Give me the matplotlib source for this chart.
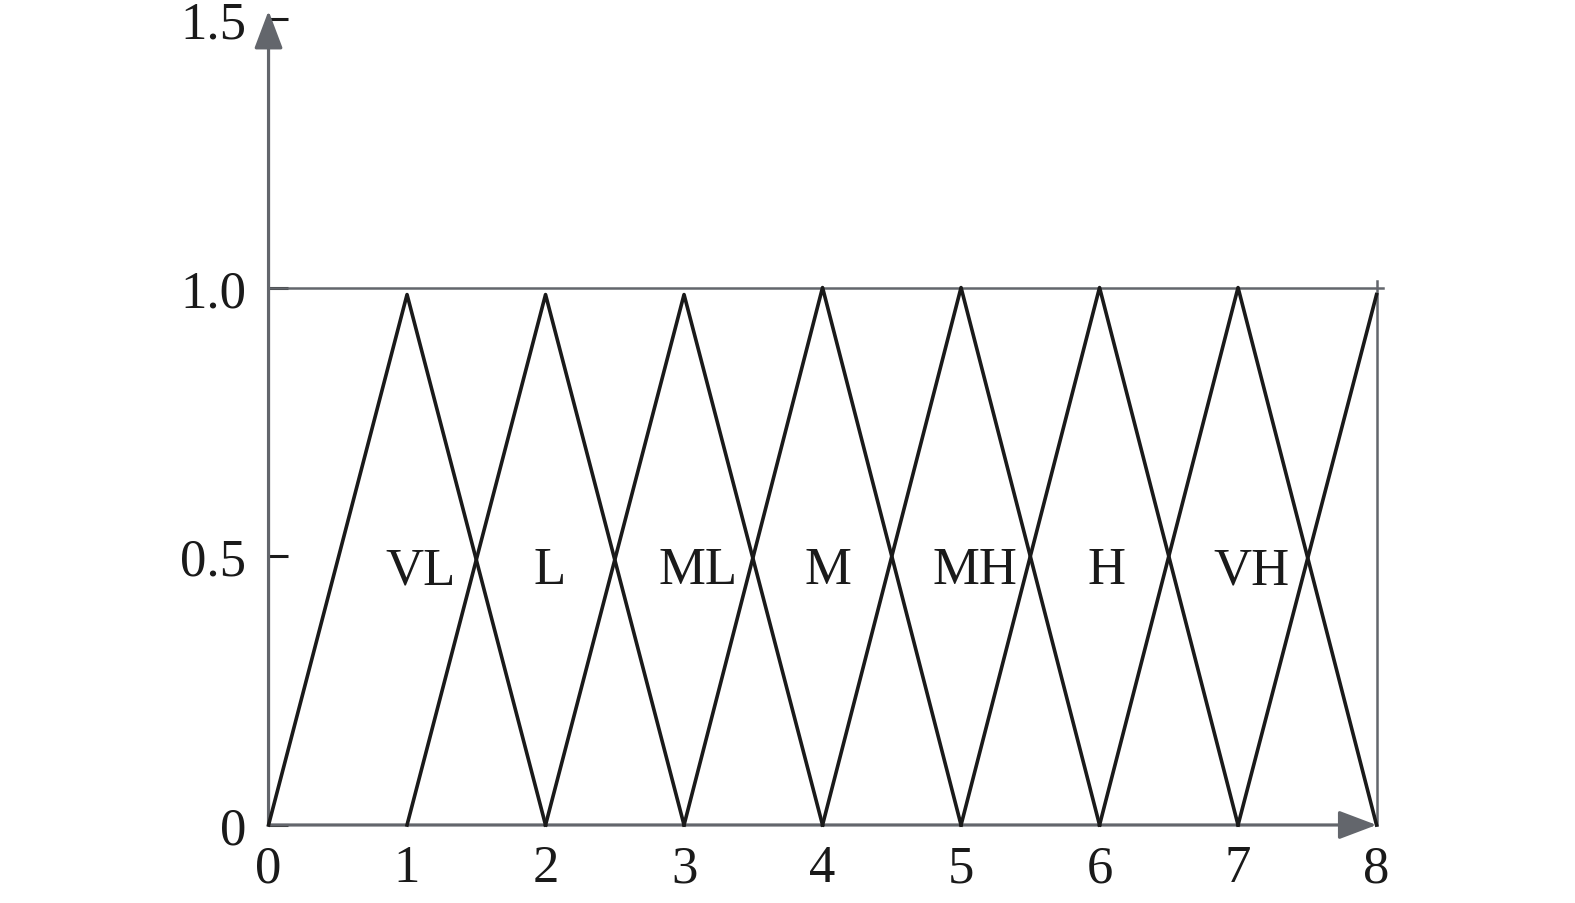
import matplotlib.pyplot as plt
import numpy as np

# membership functions: (left foot, peak, right foot, peak height)
lefts = [0, 1, 2, 3, 4, 5, 6, 7]
peaks = [1, 2, 3, 4, 5, 6, 7, 8]
rights = [2, 3, 4, 5, 6, 7, 8, 8]
heights = [0.987, 0.987, 0.987, 1.0, 1.0, 1.0, 1.0, 0.987]
end_vals = [0, 0, 0, 0, 0, 0, 0, 0.987]

labels = ['VL', 'L', 'ML', 'M', 'MH', 'H', 'VH']
label_x = [1.1, 2.03, 3.1, 4.04, 5.1, 6.05, 7.1]
label_y = 0.474

xticks = [0, 1, 2, 3, 4, 5, 6, 7, 8]
yticks = [0, 0.5, 1.0, 1.5]
ytick_labels = ['0', '0.5', '1.0', '1.5']

plt.rcParams['font.family'] = ['Liberation Serif', 'DejaVu Serif']
gray = '#63666c'

fig = plt.figure(figsize=(15.75, 9.04), dpi=100)
ax = fig.add_axes([0.1705, 0.0863, 0.7035, 0.8917])
ax.set_xlim(0, 8)
ax.set_ylim(0, 1.5)
for s in ax.spines.values():
    s.set_visible(False)

# frame lines at 1.0 and x=8
ax.plot([0, 8.05], [1.0, 1.0], color=gray, lw=1.8, clip_on=False)
ax.plot([8, 8], [0, 1.013], color=gray, lw=1.8, clip_on=False)

# axes with arrows
astyle = '-|>,head_length=0.45,head_width=0.17'
ax.annotate('', xy=(8.0, 0), xytext=(0, 0), annotation_clip=False,
            arrowprops=dict(arrowstyle=astyle, color=gray, lw=2.3, mutation_scale=52, shrinkA=0, shrinkB=0))
ax.annotate('', xy=(0, 1.515), xytext=(0, 0), annotation_clip=False,
            arrowprops=dict(arrowstyle=astyle, color=gray, lw=2.3, mutation_scale=52, shrinkA=0, shrinkB=0))

# triangles
for l, p, r, h, e in zip(lefts, peaks, rights, heights, end_vals):
    ax.plot([l, p, r], [0, h, e], color='#1a1a1a', lw=2.6, clip_on=False, zorder=3)

for t, lx in zip(labels, label_x):
    ax.text(lx, label_y, t, fontsize=38, ha='center', va='center', color='#1a1a1a')

ax.set_xticks(xticks)
ax.set_xticklabels([str(v) for v in xticks])
ax.set_yticks(yticks)
ax.set_yticklabels(ytick_labels)
ax.tick_params(axis='x', length=0, pad=14, labelsize=38, labelcolor='#1a1a1a')
ax.tick_params(axis='y', direction='in', length=14, width=2.2, color='#1a1a1a', pad=16, labelsize=38, labelcolor='#1a1a1a')

fig.savefig('out.png', dpi=100)
